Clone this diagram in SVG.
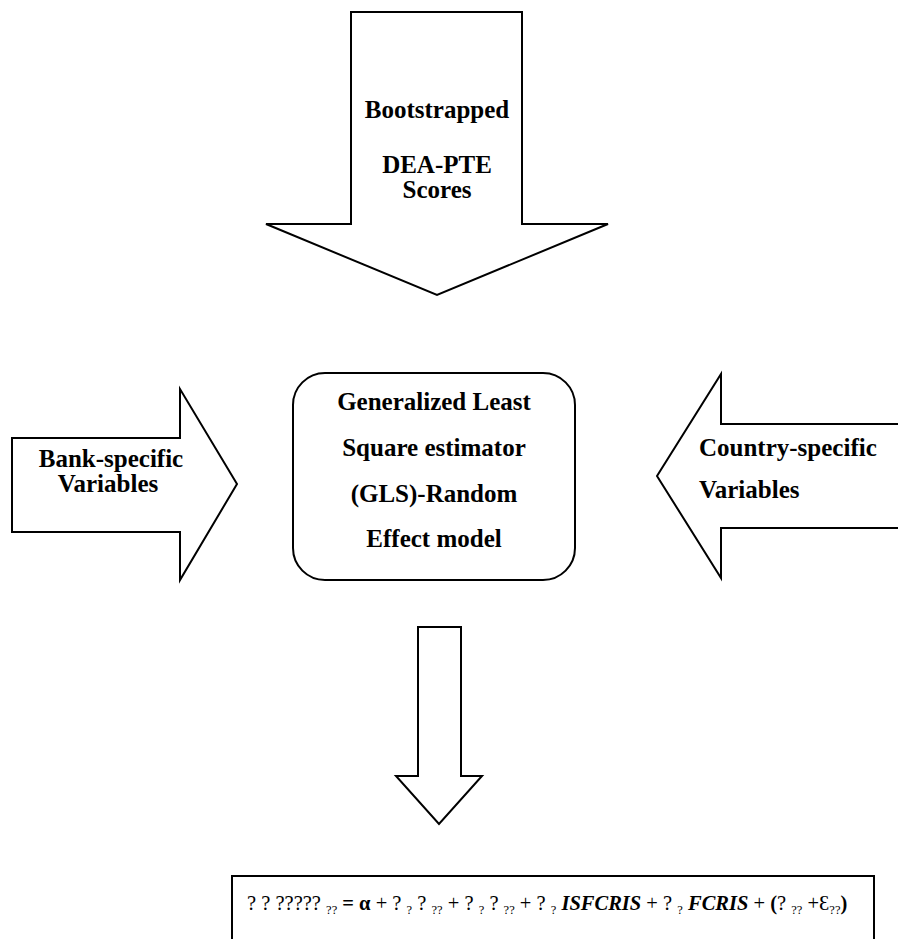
<svg xmlns="http://www.w3.org/2000/svg" width="898" height="939" viewBox="0 0 898 939">
<style>
  .shape { fill: #ffffff; stroke: #000000; stroke-width: 2; stroke-linejoin: miter; }
  .lbl { font-family: "Liberation Serif", "Times New Roman", serif; font-weight: bold; font-size: 25px; fill: #000000; }
  .eq { font-family: "Liberation Serif", "Times New Roman", serif; font-size: 20.5px; fill: #000000; }
  .sub { font-size: 12.5px; }
  .b { font-weight: bold; }
  .bi { font-weight: bold; font-style: italic; }
</style>
<rect width="898" height="939" fill="#ffffff"/>
<g id="connectors">
  <polygon class="shape" points="351,12 522,12 522,224 608,224 437,295 266,224 351,224"/>
  <polygon class="shape" points="12,438 180,438 180,389 237,484 180,580 180,532 12,532"/>
  <polygon class="shape" points="905,424 721,424 721,374 657,476 721,578 721,528 905,528"/>
  <polygon class="shape" points="418,627 461,627 461,776 482,776 439,824 396,776 418,776"/>
</g>
<g id="node-bootstrapped">
  <text class="lbl" x="437" y="118" text-anchor="middle">Bootstrapped</text>
  <text class="lbl" x="437" y="173" text-anchor="middle">DEA-PTE</text>
  <text class="lbl" x="437" y="198" text-anchor="middle">Scores</text>
</g>
<g id="node-bank">
  <text class="lbl" x="111" y="467" text-anchor="middle">Bank-specific</text>
  <text class="lbl" x="108" y="492" text-anchor="middle">Variables</text>
</g>
<g id="node-country">
  <text class="lbl" x="699" y="456">Country-specific</text>
  <text class="lbl" x="699" y="498">Variables</text>
</g>
<g id="node-gls">
  <rect class="shape" x="293" y="373" width="282" height="207" rx="32" ry="32"/>
  <text class="lbl" x="434" y="410" text-anchor="middle">Generalized Least</text>
  <text class="lbl" x="434" y="456" text-anchor="middle">Square estimator</text>
  <text class="lbl" x="434" y="502" text-anchor="middle">(GLS)-Random</text>
  <text class="lbl" x="434" y="547" text-anchor="middle">Effect model</text>
</g>
<g id="node-equation">
  <path class="shape" d="M232,945 L232,876 L874,876 L874,945"/>
  <text class="eq" x="247" y="910" xml:space="preserve">? ? ????? <tspan class="sub" dy="4">??</tspan><tspan class="b" dy="-4"> = α</tspan> + ? <tspan class="sub" dy="4">?</tspan><tspan dy="-4"> ? </tspan><tspan class="sub" dy="4">??</tspan><tspan dy="-4"> + ? </tspan><tspan class="sub" dy="4">?</tspan><tspan dy="-4"> ? </tspan><tspan class="sub" dy="4">??</tspan><tspan dy="-4"> + ? </tspan><tspan class="sub" dy="4">?</tspan><tspan class="bi" dy="-4"> ISFCRIS</tspan> + ? <tspan class="sub" dy="4">?</tspan><tspan class="bi" dy="-4"> FCRIS</tspan> + <tspan class="b">(</tspan>? <tspan class="sub" dy="4">??</tspan><tspan dy="-4"> +Ɛ</tspan><tspan class="sub" dy="4">??</tspan><tspan class="b" dy="-4">)</tspan></text>
</g>
</svg>
